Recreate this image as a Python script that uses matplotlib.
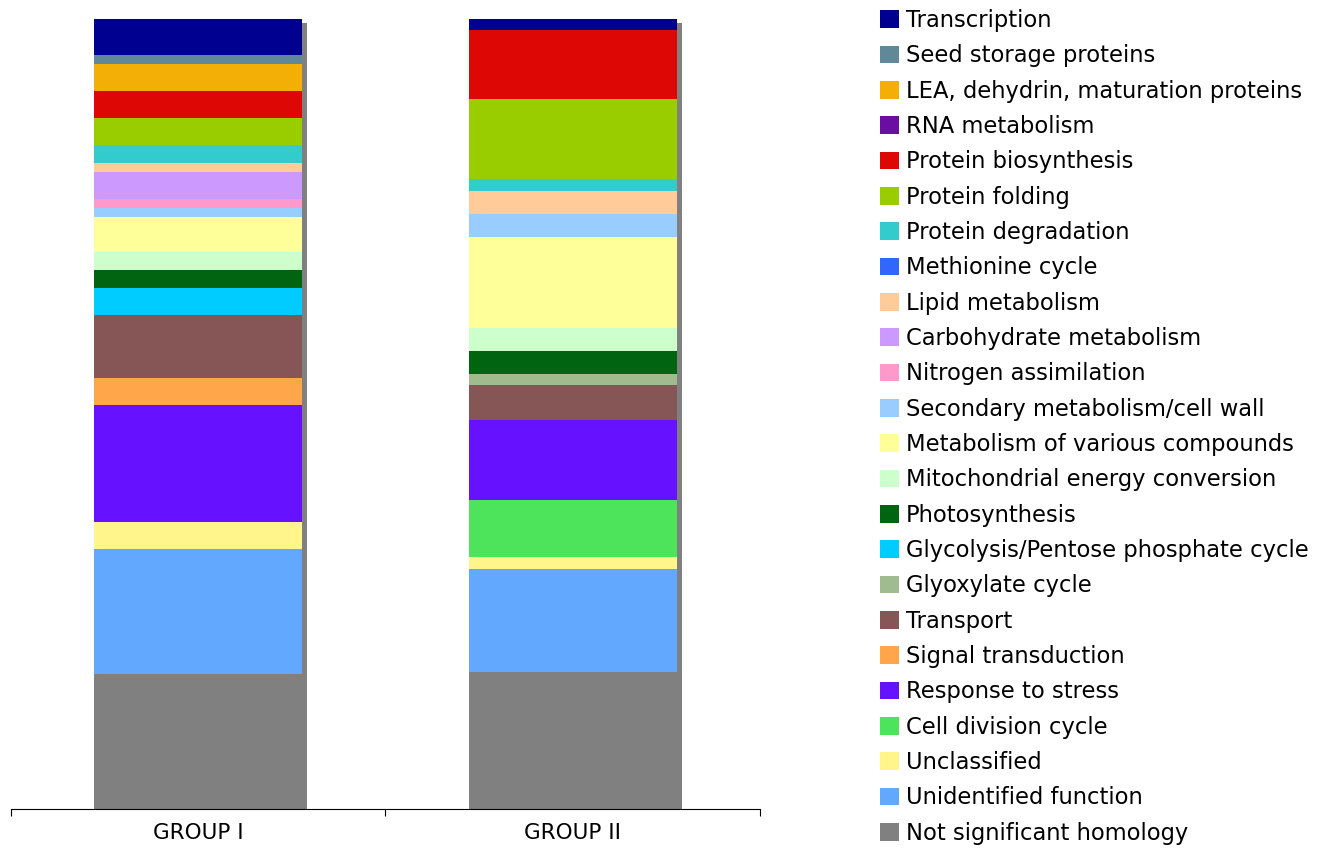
import matplotlib
matplotlib.use("Agg")
import matplotlib.pyplot as plt
import matplotlib.transforms as mtransforms
import numpy as np

# categories in legend order (top of the stack first)
categories = [
    "Transcription", "Seed storage proteins", "LEA, dehydrin, maturation proteins",
    "RNA metabolism", "Protein biosynthesis", "Protein folding", "Protein degradation",
    "Methionine cycle", "Lipid metabolism", "Carbohydrate metabolism",
    "Nitrogen assimilation", "Secondary metabolism/cell wall",
    "Metabolism of various compounds", "Mitochondrial energy conversion",
    "Photosynthesis", "Glycolysis/Pentose phosphate cycle", "Glyoxylate cycle",
    "Transport", "Signal transduction", "Response to stress", "Cell division cycle",
    "Unclassified", "Unidentified function", "Not significant homology",
]
colors = [
    "#000090", "#608898", "#F3AF05", "#6A0DA3", "#DD0806", "#9ACD00", "#33CCCC",
    "#3366FF", "#FFCC99", "#CC99FF", "#FF99CC", "#99CCFF", "#FFFF99", "#CCFFCC",
    "#006411", "#00CCFF", "#A0BC8F", "#865656", "#FFA54A", "#6611FF", "#4DE35A",
    "#FFF58A", "#63A8FF", "#808080",
]
groups = ["GROUP I", "GROUP II"]
group1 = [4, 1, 3, 0, 3, 3, 2, 0, 1, 3, 1, 1, 4, 2, 2, 3, 0, 7, 3, 13, 0, 3, 14, 15]
group2 = [1, 0, 0, 0, 6, 7, 1, 0, 2, 0, 0, 2, 8, 2, 2, 0, 1, 3, 0, 7, 5, 1, 9, 12]

g1 = np.array(group1) / sum(group1) * 100
g2 = np.array(group2) / sum(group2) * 100

fig = plt.figure(figsize=(13.17, 8.48), dpi=100)
ax = fig.add_axes([11 / 1317, 39 / 848, 749 / 1317, 790 / 848])

x = np.arange(len(groups))
width = 0.555

# drop shadow behind each bar
shadow = ax.bar(x, [100, 100], width, color="#808080", linewidth=0, zorder=1)
offset = mtransforms.ScaledTranslation(0.05, -0.04, fig.dpi_scale_trans)
for p in shadow:
    p.set_transform(ax.transData + offset)

bottom = np.zeros(2)
handles = []
for i in range(len(categories) - 1, -1, -1):
    vals = np.array([g1[i], g2[i]])
    b = ax.bar(x, vals, width, bottom=bottom, color=colors[i], linewidth=0,
               label=categories[i], zorder=2)
    handles.append(b)
    bottom += vals

ax.set_xlim(-0.5, 1.5)
ax.set_ylim(0, 100)
for s in ["left", "right", "top"]:
    ax.spines[s].set_visible(False)
ax.spines["bottom"].set_linewidth(0.8)
ax.spines["bottom"].set_zorder(3)
ax.set_yticks([])
ax.set_xticks([-0.5, 0.5, 1.5])
ax.set_xticklabels([])
ax.tick_params(axis="x", which="major", direction="out", length=5, width=0.8)
ax.set_xticks(x, minor=True)
ax.set_xticklabels(groups, minor=True, fontsize=15.5)
ax.tick_params(axis="x", which="minor", length=0, pad=10)

fig.legend(handles[::-1], categories, loc="upper left",
           bbox_to_anchor=(880 / 1317, 1 - 9 / 848), frameon=False,
           fontsize=16.3, borderpad=0, borderaxespad=0,
           handlelength=0.83, handleheight=0.83, handletextpad=0.3,
           labelspacing=0.545)

fig.savefig("out.png", dpi=100)
